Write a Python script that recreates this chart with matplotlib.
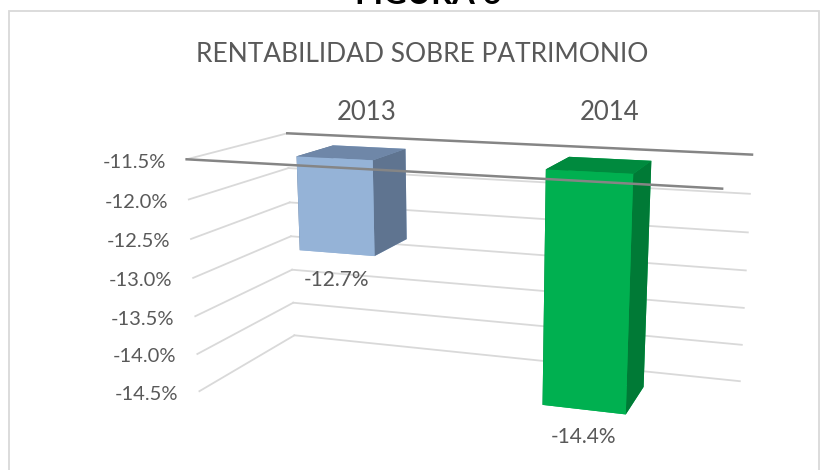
import numpy as np
import matplotlib.pyplot as plt
from matplotlib.patches import Rectangle
from mpl_toolkits.mplot3d import proj3d

# Datos del grafico
categorias = ['2013', '2014']
valores = [-12.7, -14.4]
etiquetas = ['-12.7%', '-14.4%']
ticks = [-11.5, -12.0, -12.5, -13.0, -13.5, -14.0, -14.5]
tick_labels = ['-11.5%', '-12.0%', '-12.5%', '-13.0%', '-13.5%', '-14.0%', '-14.5%']

# Colores de las caras (frente, tapa, lado)
frente = ['#95B3D7', '#00B050']
tapa = ['#6F87A8', '#008A3E']
lado = ['#5F7490', '#007A36']
gris_texto = '#595959'
gris_grid = '#D9D9D9'
gris_eje = '#858585'

plt.rcParams['font.family'] = ['Lato', 'DejaVu Sans']

W, H = 821, 470
fig = plt.figure(figsize=(W / 100, H / 100), dpi=100)

# Borde del area del grafico
fig.add_artist(Rectangle((9 / W, -0.1), (819 - 9) / W, (H - 11) / H + 0.1,
                         transform=fig.transFigure, fill=False,
                         edgecolor=gris_grid, lw=1.3))

# Titulo de la figura (cortado arriba) y titulo del grafico
fig.text(428 / W, 1 - 4 / H, 'FIGURA 6', ha='center', va='baseline',
         fontsize=23.5, fontweight='bold', color='black')
fig.text(422.5 / W, 1 - 61.5 / H, 'RENTABILIDAD SOBRE PATRIMONIO',
         ha='center', va='baseline', fontsize=19, color=gris_texto)

# Ejes 3D con perspectiva
S = 584
ax = fig.add_axes([173 / W, -104 / H, S / W, S / H], projection='3d')
ax.set_proj_type('persp', focal_length=0.393)
ax.view_init(elev=13.7, azim=-71)
ax.set_box_aspect((530, 217, 244))
ax.set_axis_off()

xmin, xmax = -0.52, 1.5
techo, piso = ticks[0], ticks[-1]
ax.set_xlim(xmin, xmax)
ax.set_ylim(0, 1)
ax.set_zlim(piso, techo)

# Lineas de cuadricula en pared del fondo y pared izquierda
for z in ticks:
    ax.plot([xmin, xmin], [0, 1], [z, z], color=gris_grid, lw=1.3, zorder=0.1)
    if z != techo:
        ax.plot([xmin, xmax], [1, 1], [z, z], color=gris_grid, lw=1.3, zorder=0.1)

# Bordes del "piso" (eje de categorias)
ax.plot([xmin, xmax], [1, 1], [techo, techo], color=gris_eje, lw=1.8, zorder=0.2)
ax.plot([xmin, xmax], [0, 0], [techo, techo], color=gris_eje, lw=1.8, zorder=20)

# Barras 3D (desde el eje hacia abajo)
ancho = 0.32
y0, prof = 0.25, 0.4
pos = np.arange(len(valores))
colores = []
for f, t, l in zip(frente, tapa, lado):
    colores += [f, t, f, f, l, l]  # -z, +z, -y, +y, -x, +x
z0 = np.array(valores)
ax.bar3d(pos - ancho / 2, np.full(len(pos), y0), z0,
         ancho, prof, techo - z0, color=colores, shade=False, linewidth=0)

# Textos en 2D, colocados en la proyeccion de puntos 3D
fig.canvas.draw()
M = ax.get_proj()
a_fig = fig.transFigure.inverted()


def a_pixel(x, y, z):
    xs, ys, _ = proj3d.proj_transform(x, y, z, M)
    return ax.transData.transform((xs, ys))


def texto(px, py, s, **kw):
    fx, fy = a_fig.transform((px, py))
    fig.text(fx, fy, s, color=gris_texto, **kw)


# Etiquetas del eje de valores
for z, lbl in zip(ticks, tick_labels):
    px, py = a_pixel(xmin, 0, z)
    texto(px - 21, py - 3, lbl, ha='right', va='center', fontsize=14.5)

# Etiquetas de categorias (misma altura en pantalla)
for i, cat in enumerate(categorias):
    px, _ = a_pixel(i, 0.6, techo)
    texto(px + 2, H - 113, cat, ha='center', va='center', fontsize=18.5)

# Etiquetas de datos
for i, (v, lbl) in enumerate(zip(valores, etiquetas)):
    px, py = a_pixel(i, y0, v)
    texto(px, py - 27, lbl, ha='center', va='center', fontsize=15)

fig.savefig('out.png', dpi=100)
